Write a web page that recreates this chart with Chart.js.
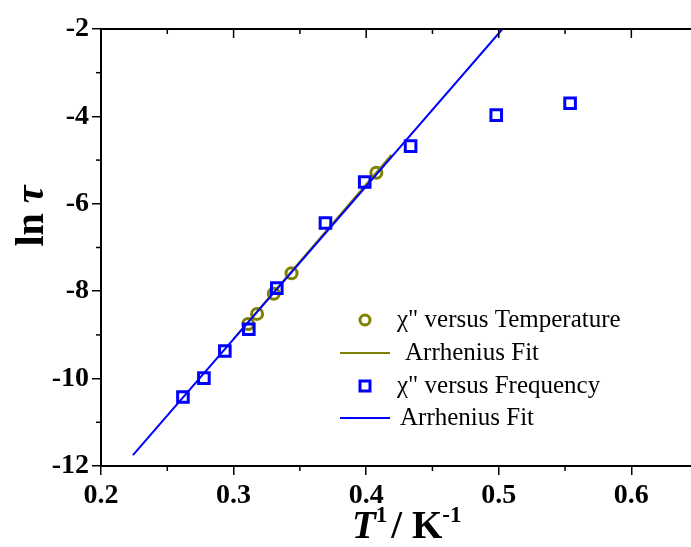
<!DOCTYPE html>
<html>
<head>
<meta charset="utf-8">
<script src="https://cdn.jsdelivr.net/npm/chart.js@4"></script>
<style>
  html, body { margin: 0; padding: 0; background: #fff; overflow: hidden; }
  #wrap { width: 691px; height: 547px; position: relative; }
</style>
</head>
<body>
<div id="wrap"><canvas id="arrhenius"></canvas></div>
<script>
// data
const tempX = [0.3110, 0.3177, 0.3303, 0.3437, 0.4077];
const tempY = [-8.75, -8.52, -8.06, -7.59, -5.29];
const tempFitX = [0.300, 0.419];
const tempFitY = [-9.09, -4.88];

const freqX = [0.2618, 0.2776, 0.2934, 0.3115, 0.3326, 0.3693, 0.3989, 0.4335, 0.4981, 0.5538];
const freqY = [-10.42, -9.99, -9.37, -8.87, -7.93, -6.44, -5.50, -4.68, -3.97, -3.70];
const freqFitX = [0.2241, 0.5028];
const freqFitY = [-11.75, -2.0];

const legendLabels = ['\u03C7" versus Temperature', 'Arrhenius Fit', '\u03C7" versus Frequency', 'Arrhenius Fit'];

const OLIVE = '#808000';
const BLUE = '#0000ff';
const SERIF = '"Liberation Serif", "Times New Roman", serif';

function toPoints(xs, ys) {
    return xs.map((x, i) => ({ x: x, y: ys[i] }));
}

// minor ticks, top frame line, axis titles and legend
const extras = {
    id: 'extras',
    afterDraw(chart) {
        const ctx = chart.ctx;
        const xs = chart.scales.x, ys = chart.scales.y;
        const area = chart.chartArea;
        ctx.save();
        ctx.strokeStyle = '#000';
        ctx.lineWidth = 2;

        // top frame
        ctx.beginPath();
        ctx.moveTo(area.left, area.top);
        ctx.lineTo(area.right, area.top);
        ctx.stroke();

        // minor ticks (halfway between majors)
        ctx.lineWidth = 1.5;
        for (let v = 0.25; v < xs.max; v += 0.1) {
            const px = xs.getPixelForValue(v);
            ctx.beginPath();
            ctx.moveTo(px, area.bottom); ctx.lineTo(px, area.bottom + 5);
            ctx.moveTo(px, area.top); ctx.lineTo(px, area.top + 5);
            ctx.stroke();
        }
        for (let v = 0.3; v < xs.max; v += 0.1) {
            const px = xs.getPixelForValue(v);
            ctx.beginPath();
            ctx.moveTo(px, area.top); ctx.lineTo(px, area.top + 9);
            ctx.stroke();
        }
        for (let v = -11; v < -2; v += 2) {
            const py = ys.getPixelForValue(v);
            ctx.beginPath();
            ctx.moveTo(area.left, py); ctx.lineTo(area.left - 5, py);
            ctx.stroke();
        }

        // y title: ln tau
        ctx.fillStyle = '#000';
        ctx.translate(43, 216);
        ctx.rotate(-Math.PI / 2);
        ctx.textBaseline = 'alphabetic';
        ctx.font = 'bold 40px ' + SERIF;
        const lnW = ctx.measureText('ln ').width;
        ctx.font = 'italic bold 40px ' + SERIF;
        const tauW = ctx.measureText('\u03C4').width;
        const startX = -(lnW + tauW) / 2;
        ctx.font = 'bold 40px ' + SERIF;
        ctx.fillText('ln ', startX, 0);
        ctx.font = 'italic bold 40px ' + SERIF;
        ctx.fillText('\u03C4', startX + lnW, 0);
        ctx.setTransform(1, 0, 0, 1, 0, 0);

        // x title: T^1 / K^-1
        let x = 352;
        const base = 538;
        ctx.font = 'italic bold 39px ' + SERIF;
        ctx.fillText('T', x, base); x += ctx.measureText('T').width;
        ctx.font = 'bold 23px ' + SERIF;
        ctx.fillText('1', x, base - 16); x += ctx.measureText('1').width + 4;
        ctx.font = 'bold 39px ' + SERIF;
        ctx.fillText('/ K', x, base); x += ctx.measureText('/ K').width;
        ctx.font = 'bold 23px ' + SERIF;
        ctx.fillText('-1', x, base - 16);

        // legend
        ctx.font = '25px ' + SERIF;
        ctx.textBaseline = 'middle';
        const rows = [320, 353, 386, 418];
        // circle
        ctx.lineWidth = 3;
        ctx.strokeStyle = OLIVE;
        ctx.beginPath();
        ctx.arc(365, rows[0], 5, 0, Math.PI * 2);
        ctx.stroke();
        ctx.fillText(legendLabels[0], 397, rows[0]);
        // olive line
        ctx.lineWidth = 2;
        ctx.beginPath();
        ctx.moveTo(340, rows[1]); ctx.lineTo(390, rows[1]);
        ctx.stroke();
        ctx.fillText(legendLabels[1], 405, rows[1]);
        // square
        ctx.lineWidth = 3;
        ctx.strokeStyle = BLUE;
        ctx.strokeRect(360, rows[2] - 5, 10, 10);
        ctx.fillText(legendLabels[2], 397, rows[2]);
        // blue line
        ctx.lineWidth = 2;
        ctx.beginPath();
        ctx.moveTo(340, rows[3]); ctx.lineTo(390, rows[3]);
        ctx.stroke();
        ctx.fillText(legendLabels[3], 400, rows[3]);
        ctx.restore();
    }
};

const ctx = document.getElementById('arrhenius').getContext('2d');
new Chart(ctx, {
    type: 'scatter',
    data: {
        datasets: [
            {
                label: legendLabels[0],
                data: toPoints(tempX, tempY),
                pointStyle: 'circle',
                pointRadius: 5.5,
                pointBorderWidth: 3,
                borderColor: OLIVE,
                backgroundColor: 'rgba(0,0,0,0)',
                showLine: false,
                order: 4
            },
            {
                label: legendLabels[1],
                data: toPoints(tempFitX, tempFitY),
                borderColor: OLIVE,
                borderWidth: 2,
                pointRadius: 0,
                showLine: true,
                order: 3
            },
            {
                label: legendLabels[3],
                data: toPoints(freqFitX, freqFitY),
                borderColor: BLUE,
                borderWidth: 2,
                pointRadius: 0,
                showLine: true,
                order: 2
            },
            {
                label: legendLabels[2],
                data: toPoints(freqX, freqY),
                pointStyle: 'rect',
                pointRadius: 7.5,
                pointBorderWidth: 3,
                borderColor: BLUE,
                backgroundColor: 'rgba(0,0,0,0)',
                showLine: false,
                order: 1
            }
        ]
    },
    options: {
        responsive: true,
        maintainAspectRatio: false,
        animation: false,
        layout: { autoPadding: false, padding: { top: 29, right: 0, left: 0, bottom: 0 } },
        plugins: {
            legend: { display: false },
            tooltip: { enabled: false }
        },
        scales: {
            x: {
                type: 'linear',
                min: 0.2,
                max: 0.645,
                afterFit(scale) {
                    scale.height = 81;
                    scale.paddingLeft = 0;
                    scale.paddingRight = 0;
                },
                border: { color: '#000', width: 2 },
                grid: { drawOnChartArea: false, color: '#000', tickLength: 9, lineWidth: 1.5 },
                ticks: {
                    stepSize: 0.1,
                    includeBounds: false,
                    padding: 4,
                    color: '#000',
                    font: { family: SERIF, size: 28, weight: 'bold' },
                    callback: v => v.toFixed(1)
                }
            },
            y: {
                type: 'linear',
                min: -12,
                max: -2,
                afterFit(scale) {
                    scale.width = 101;
                    scale.paddingTop = 0;
                    scale.paddingBottom = 0;
                },
                border: { color: '#000', width: 2 },
                grid: { drawOnChartArea: false, color: '#000', tickLength: 9, lineWidth: 1.5 },
                ticks: {
                    stepSize: 2,
                    padding: 3,
                    color: '#000',
                    font: { family: SERIF, size: 28, weight: 'bold' }
                }
            }
        }
    },
    plugins: [extras]
});
</script>
</body>
</html>
